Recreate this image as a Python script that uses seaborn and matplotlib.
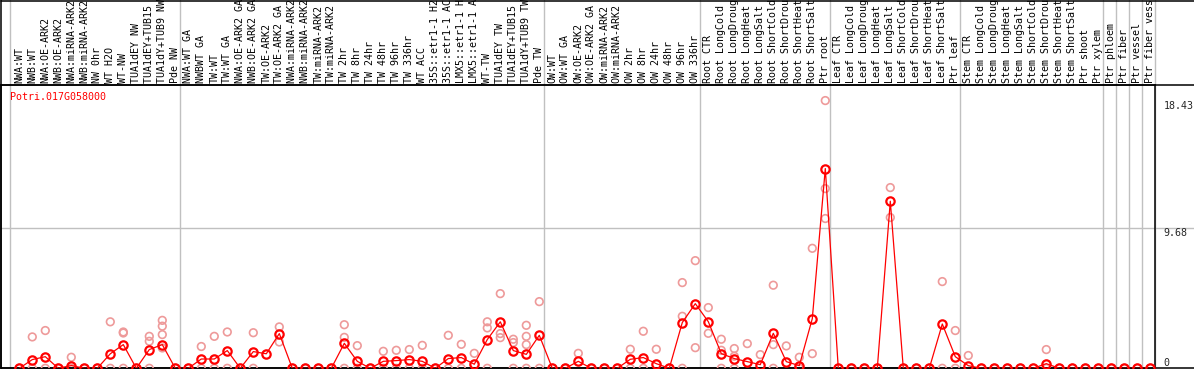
import numpy as np
import pandas as pd
import matplotlib
matplotlib.use('Agg')
import matplotlib.pyplot as plt
import matplotlib.transforms as mtransforms
import seaborn as sns

# DATA ---------------------------------------------------

gene = 'Potri.017G058000'

samples = ['NWA:WT', 'NWB:WT', 'NWA:OE-ARK2', 'NWB:OE-ARK2', 'NWA:miRNA-ARK2',
	'NWB:miRNA-ARK2', 'NW 0hr', 'WT H2O', 'WT-NW', 'TUA1dEY NW', 'TUA1dEY+TUB15 NW',
	'TUA1dY+TUB9 NW', 'Pde NW',
	'NWA:WT GA', 'NWBWT GA', 'TW:WT', 'TW:WT GA', 'NWA:OE-ARK2 GA', 'NWB:OE-ARK2 GA',
	'TW:OE-ARK2', 'TW:OE-ARK2 GA', 'NWA:miRNA-ARK2 GA', 'NWB:miRNA-ARK2 GA',
	'TW:miRNA-ARK2', 'TW:miRNA-ARK2 GA', 'TW 2hr', 'TW 8hr', 'TW 24hr', 'TW 48hr',
	'TW 96hr', 'TW 336hr', 'WT ACC', '35S::etr1-1 H2O', '35S::etr1-1 ACC',
	'LMX5::etr1-1 H2O', 'LMX5::etr1-1 ACC', 'WT-TW', 'TUA1dEY TW', 'TUA1dEY+TUB15 TW',
	'TUA1dY+TUB9 TW', 'Pde TW',
	'OW:WT', 'OW:WT GA', 'OW:OE-ARK2', 'OW:OE-ARK2 GA', 'OW:miRNA-ARK2',
	'OW:miRNA-ARK2 GA', 'OW 2hr', 'OW 8hr', 'OW 24hr', 'OW 48hr', 'OW 96hr', 'OW 336hr',
	'Root CTR', 'Root LongCold', 'Root LongDrought', 'Root LongHeat', 'Root LongSalt',
	'Root ShortCold', 'Root ShortDrought', 'Root ShortHeat', 'Root ShortSalt', 'Ptr root',
	'Leaf CTR', 'Leaf LongCold', 'Leaf LongDrought', 'Leaf LongHeat', 'Leaf LongSalt',
	'Leaf ShortCold', 'Leaf ShortDrought', 'Leaf ShortHeat', 'Leaf ShortSalt', 'Ptr leaf',
	'Stem CTR', 'Stem LongCold', 'Stem LongDrought', 'Stem LongHeat', 'Stem LongSalt',
	'Stem ShortCold', 'Stem ShortDrought', 'Stem ShortHeat', 'Stem ShortSalt',
	'Ptr shoot', 'Ptr xylem',
	'Ptr phloem', 'Ptr fiber', 'Ptr vessel', 'Ptr fiber vessel']

# mean expression (red line)
mean_expr = [0, 0.6, 0.8, 0, 0.19, 0, 0, 1.0, 1.63, 0,
	1.29, 1.63, 0, 0, 0.64, 0.64, 1.22, 0, 1.15, 1.0,
	2.39, 0, 0, 0, 0, 1.72, 0.48, 0, 0.48, 0.53,
	0.6, 0.48, 0, 0.67, 0.74, 0.28, 1.98, 3.2, 1.22, 0.96,
	2.27, 0, 0, 0.48, 0, 0, 0, 0.62, 0.74, 0.32,
	0, 3.15, 4.45, 3.21, 1.01, 0.67, 0.46, 0.25, 2.41, 0.46,
	0.18, 3.42, 13.75, 0, 0, 0, 0, 11.5, 0, 0,
	0, 3.05, 0.8, 0.18, 0, 0, 0, 0, 0, 0.32,
	0, 0, 0, 0, 0, 0, 0, 0]

nan = np.nan
# single replicates (pink circles), highest first
rep_a = [0, 2.16, 2.6, 0, 0.76, 0, 0, 3.2, 2.5, 0,
	2.2, 3.3, 0, 0, 1.5, 2.2, 2.5, 0, 2.45, nan,
	2.85, 0, 0, 0, 0, 3.0, 1.56, 0, 1.17, 1.24,
	1.29, 1.58, 0, 2.27, 1.65, 1.03, 3.2, 5.14, 2.0, 2.96,
	4.59, 0, 0, 1.03, 0, 0, 0, 1.31, 2.55, 1.31,
	0, 5.9, 7.41, 4.18, 2.0, 1.36, 1.7, 0.94, 5.72, 1.54,
	0.76, 8.26, 18.43, 0, 0, 0, 0, 12.44, 0, 0,
	0, 5.97, 2.6, 0.88, 0, 0, 0, 0, 0, 1.29,
	0, 0, 0, 0, 0, 0, 0, 0]
rep_b = [nan, 0, 0, nan, 0, nan, nan, 0, 2.43, nan,
	1.86, 2.9, nan, nan, 0, 0, 0, nan, 0, nan,
	1.81, nan, nan, nan, nan, 2.13, 0, nan, 0, 0,
	0, 0, nan, 0, 0, nan, 2.78, 2.39, 1.77, 2.2,
	0, nan, nan, nan, nan, nan, nan, 0, 0, nan,
	nan, 3.58, 1.42, 2.41, 1.24, 0.83, nan, nan, 1.63, nan,
	0, 1.01, 12.37, nan, nan, nan, nan, 10.38, nan, nan,
	nan, 0, 0, nan, nan, nan, nan, nan, nan, 0,
	nan, nan, nan, nan, nan, nan, nan, nan]
rep_c = [nan, nan, nan, nan, nan, nan, nan, nan, 0, nan,
	0, 2.32, nan, nan, nan, nan, nan, nan, nan, nan,
	nan, nan, nan, nan, nan, 0, nan, nan, nan, nan,
	nan, nan, nan, nan, nan, nan, 0, 2.11, 0, 1.63,
	nan, nan, nan, nan, nan, nan, nan, nan, nan, nan,
	nan, 0, nan, nan, 0, 0, nan, nan, 0, nan,
	nan, nan, 10.31, nan, nan, nan, nan, nan, nan, nan,
	nan, nan, nan, nan, nan, nan, nan, nan, nan, nan,
	nan, nan, nan, nan, nan, nan, nan, nan]
rep_d = [nan] * 88
rep_d[11] = 1.4
rep_d[39] = 0

# last sample of each tissue/experiment block
group_ends = [12, 40, 52, 62, 72, 83, 84, 85, 86, 87]
yticks = [0, 9.68, 18.43]

# PLOT ---------------------------------------------------

sns.set_style('white')
plt.rcParams['font.family'] = ['DejaVu Sans Mono']

pos = np.arange(len(samples))
df_mean = pd.DataFrame({'pos': pos, 'expr': mean_expr})
df_rep = pd.DataFrame({'pos': pos, 'a': rep_a, 'b': rep_b, 'c': rep_c, 'd': rep_d})
df_rep = df_rep.melt(id_vars='pos', value_name='expr').dropna()

W, H = 1194, 370
fig = plt.figure(figsize=(W / 100, H / 100), dpi=100)
ax = fig.add_axes([0.8 / W, 1.7 / H, (1155.3 - 0.8) / W, 283 / H])

grey = '#c0c0c0'
top_frac = 368.3 / 283

# block separators running through the label strip
sep = mtransforms.blended_transform_factory(ax.transData, ax.transAxes)
for g in [-1.72] + group_ends:
	ax.plot([g + 1.005, g + 1.005] if g < 0 else [g + 0.385, g + 0.385], [0, top_frac],
		transform=sep, color=grey, lw=1.0, clip_on=False, zorder=1)

ax.axhline(yticks[1], xmin=0, xmax=W / 1155.3, color=grey, lw=1.0, clip_on=False, zorder=1)

sns.scatterplot(data=df_rep, x='pos', y='expr', ax=ax, marker='o', s=30,
	facecolor='none', edgecolor='#ee9a9a', linewidth=1.2, zorder=3)
sns.lineplot(data=df_mean, x='pos', y='expr', ax=ax, color='red', lw=0.9,
	errorbar=None, marker='o', markersize=6, markerfacecolor='none',
	markeredgecolor='red', markeredgewidth=1.6, zorder=4)

ax.set_xlim(-1.423, 87.385)
ax.set_ylim(0, 19.48)
ax.set_xticks([])
ax.set_yticks([])
ax.set_xlabel('')
ax.set_ylabel('')
for s in ax.spines.values():
	s.set_color('black')
	s.set_linewidth(1.1)

# frame lines reaching over the label strip and the value column
ax.plot([0, W / 1155.3], [1, 1], transform=ax.transAxes, color='black', lw=1.1, clip_on=False)
ax.plot([0, W / 1155.3], [0, 0], transform=ax.transAxes, color='black', lw=1.1, clip_on=False)
ax.plot([0, W / 1155.3], [top_frac - 0.002, top_frac - 0.002], transform=ax.transAxes,
	color='black', lw=1.1, clip_on=False)
ax.plot([0, 0], [0, top_frac], transform=ax.transAxes, color='black', lw=1.1, clip_on=False)

# sample names, vertical
for i, name in enumerate(samples):
	ax.text(i, 1.008, name, transform=sep, rotation=90, ha='center', va='bottom',
		fontsize=7.2, color='black', clip_on=False)

ax.text(0.008, 0.96, gene, transform=ax.transAxes, color='red', fontsize=7.2,
	ha='left', va='center')

# value labels on the right
val = mtransforms.blended_transform_factory(ax.transAxes, ax.transData)
for v, va in zip(yticks, ['bottom', 'top', 'top']):
	ax.text(1163.3 / 1155.3, v, f'{v:g}', transform=val, fontsize=7.2, ha='left', va=va,
		clip_on=False)

fig.savefig('out.png', dpi=100)
